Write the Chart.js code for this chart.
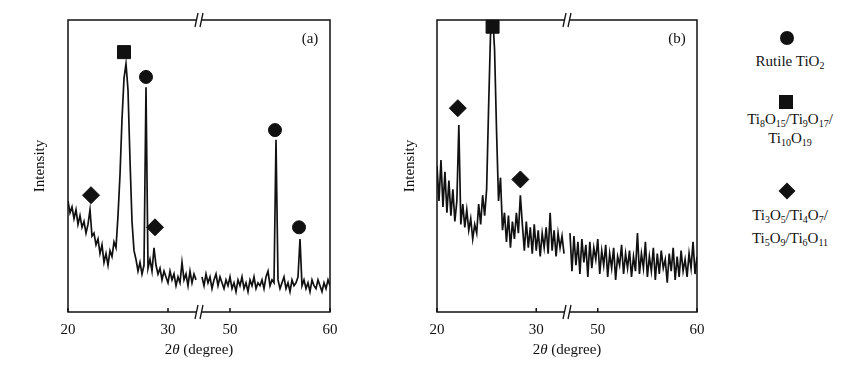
<!DOCTYPE html>
<html lang="en">
<head>
<meta charset="UTF-8">
<title>XRD patterns (a) and (b)</title>
<style>
    body {
        margin: 0;
        background: #fff;
    }

    .page {
        position: relative;
        width: 868px;
        height: 369px;
        overflow: hidden;
        font-family: 'Liberation Serif', 'Times New Roman', serif;
        color: #111;
    }

    canvas {
        position: absolute;
        top: 0;
    }

    #chartA { left: 0; }
    #chartB { left: 370px; }

    .mark {
        position: absolute;
        background: #111;
    }

    .circle { border-radius: 50%; }

    .line {
        position: absolute;
        left: 730px;
        width: 120px;
        text-align: center;
        font-size: 15px;
        line-height: 14px;
        white-space: nowrap;
    }

    sub {
        font-size: 10px;
        vertical-align: -3px;
        line-height: 0;
    }
</style>
</head>
<body>
<div class="page">
    <canvas id="chartA" width="345" height="369"></canvas>
    <canvas id="chartB" width="345" height="369"></canvas>

    <!-- legend -->
    <div class="mark circle" style="left:780px; top:31px; width:14px; height:14px;"></div>
    <div class="line" style="top:54px;">Rutile TiO<sub>2</sub></div>

    <div class="mark" style="left:779px; top:95px; width:14px; height:14px;"></div>
    <div class="line" style="top:112px;">Ti<sub>8</sub>O<sub>15</sub>/Ti<sub>9</sub>O<sub>17</sub>/</div>
    <div class="line" style="top:131px;">Ti<sub>10</sub>O<sub>19</sub></div>

    <div class="mark" style="left:781px; top:185px; width:12px; height:12px; transform:rotate(45deg);"></div>
    <div class="line" style="top:208px;">Ti<sub>3</sub>O<sub>5</sub>/Ti<sub>4</sub>O<sub>7</sub>/</div>
    <div class="line" style="top:231px;">Ti<sub>5</sub>O<sub>9</sub>/Ti<sub>6</sub>O<sub>11</sub></div>
</div>

<script src="https://cdn.jsdelivr.net/npm/chart.js"></script>
<script>
    // scan sampling: low-angle part 20.0..32.8, high-angle part 47.2..60.0, 0.2 deg steps
    const lowStart = 20.0;
    const highStart = 47.2;
    const angleStep = 0.2;

    // broken axis: 33..47 deg is cut out
    const breakShift = 13.8;
    const breakAt = 33.1;

    const tickDegrees = [20, 30, 50, 60];
    const tickLabels = ['20', '30', '50', '60'];

    // intensities (arb. units, 0-100 of the frame height)
    const lowA = [38, 34, 36, 32, 35, 30, 33, 29, 31, 27, 30, 35, 26, 27, 23, 25, 20, 23, 17, 20,
                  16, 21, 19, 24, 22, 33, 47, 66, 80, 85, 76, 52, 31, 21, 18, 14, 17, 13, 16, 77,
                  15, 18, 14, 22, 16, 13, 15, 11, 14, 12, 10, 14, 11, 13, 9, 12, 10, 17, 11, 13,
                  9, 14, 10, 13, 11];
    const highA = [12, 9, 13, 10, 12, 8, 11, 13, 9, 12, 10, 8, 11, 9, 12, 8, 10, 7, 11, 9,
                   12, 8, 10, 7, 11, 9, 12, 8, 10, 9, 11, 8, 12, 14, 9, 11, 10, 59, 11, 8,
                   10, 12, 8, 10, 7, 11, 9, 10, 12, 25, 9, 11, 8, 10, 7, 11, 9, 8, 11, 9,
                   7, 10, 8, 11, 9];

    const lowB = [50, 38, 52, 36, 48, 34, 45, 33, 42, 31, 38, 64, 30, 37, 29, 35, 28, 32, 25, 30,
                  27, 37, 30, 40, 33, 42, 70, 96, 102, 90, 62, 38, 46, 28, 34, 24, 33, 22, 31, 25,
                  34, 27, 40, 30, 21, 31, 22, 29, 20, 30, 21, 28, 19, 27, 22, 29, 20, 34, 21, 28,
                  19, 27, 22, 26, 20];
    const highB = [27, 14, 26, 16, 24, 13, 25, 17, 23, 12, 24, 15, 22, 18, 25, 13, 21, 16, 23, 12,
                   20, 15, 22, 11, 19, 16, 23, 13, 20, 15, 21, 12, 19, 14, 27, 13, 20, 15, 24, 12,
                   19, 14, 22, 11, 20, 13, 21, 15, 18, 10, 20, 14, 22, 11, 19, 12, 21, 14, 18, 12,
                   20, 15, 24, 13, 19];

    // phase markers above the reflections
    const markAngleA = [22.3, 25.6, 27.8, 28.7, 54.5, 56.9];
    const markHeightA = [40, 89, 80.5, 29, 62.3, 29];
    const markKindA = ['diamond', 'square', 'circle', 'diamond', 'circle', 'circle'];

    const markAngleB = [22.1, 25.6, 28.4];
    const markHeightB = [69.8, 97.7, 45.4];
    const markKindB = ['diamond', 'square', 'diamond'];

    const markStyle = { circle: 'circle', square: 'rect', diamond: 'rectRot' };
    const markRadius = { circle: 6.5, square: 9.2, diamond: 8.5 };

    const toAxis = t => (t > 40 ? t - breakShift : t);

    function buildSeries(low, high) {
        const pts = low.map((v, i) => ({ x: lowStart + angleStep * i, y: v }));
        pts.push({ x: breakAt, y: null });
        high.forEach((v, i) => pts.push({ x: toAxis(highStart + angleStep * i), y: v }));
        return pts;
    }

    const framePlugin = {
        id: 'frame',
        afterDraw(chart, args, opts) {
            const { ctx, chartArea: a } = chart;
            const x = chart.scales.x;
            ctx.save();
            ctx.strokeStyle = '#111';
            ctx.lineWidth = 1.5;
            ctx.strokeRect(a.left, a.top, a.right - a.left, a.bottom - a.top);

            // small inward ticks on the bottom edge
            ctx.beginPath();
            tickDegrees.forEach(d => {
                const px = x.getPixelForValue(toAxis(d));
                ctx.moveTo(px, a.bottom);
                ctx.lineTo(px, a.bottom - 4);
            });
            ctx.stroke();

            // // break marks on top and bottom edges
            const bx = x.getPixelForValue(breakAt);
            [a.top, a.bottom].forEach(y => {
                ctx.fillStyle = '#fff';
                ctx.fillRect(bx - 2, y - 2, 4, 4);
                ctx.beginPath();
                ctx.moveTo(bx - 4, y + 7);
                ctx.lineTo(bx - 1, y - 7);
                ctx.moveTo(bx + 1, y + 7);
                ctx.lineTo(bx + 4, y - 7);
                ctx.lineWidth = 1.3;
                ctx.stroke();
            });

            // x title: 2θ (degree), θ in italics
            const parts = [['2', ''], ['θ', 'italic '], [' (degree)', '']];
            let total = 0;
            parts.forEach(p => {
                ctx.font = p[1] + '15px "Liberation Serif"';
                total += ctx.measureText(p[0]).width;
            });
            let tx = (a.left + a.right) / 2 - total / 2;
            ctx.fillStyle = '#111';
            ctx.textBaseline = 'middle';
            ctx.textAlign = 'left';
            parts.forEach(p => {
                ctx.font = p[1] + '15px "Liberation Serif"';
                ctx.fillText(p[0], tx, 350);
                tx += ctx.measureText(p[0]).width;
            });

            // panel letter
            ctx.font = '15px "Liberation Serif"';
            ctx.textAlign = 'center';
            ctx.fillText(opts.letter, a.right - 20, a.top + 19);
            ctx.restore();
        }
    };

    function makeChart(id, series, angles, heights, kinds, letter, yWidth, padRight) {
        const marks = angles.map((t, i) => ({ x: toAxis(t), y: heights[i] }));
        return new Chart(document.getElementById(id), {
            type: 'line',
            data: {
                datasets: [{
                    data: series,
                    borderColor: '#111',
                    borderWidth: 1.7,
                    pointRadius: 0,
                    tension: 0,
                    spanGaps: false
                }, {
                    type: 'scatter',
                    data: marks,
                    pointStyle: kinds.map(k => markStyle[k]),
                    pointRadius: kinds.map(k => markRadius[k]),
                    backgroundColor: '#111',
                    borderColor: '#111',
                    borderWidth: 1,
                    clip: false
                }]
            },
            options: {
                responsive: false,
                animation: false,
                layout: { padding: { top: 20, right: padRight, left: 0, bottom: 0 } },
                plugins: {
                    legend: { display: false },
                    tooltip: { enabled: false },
                    frame: { letter: letter }
                },
                scales: {
                    x: {
                        type: 'linear',
                        min: 20,
                        max: 60 - breakShift,
                        grid: { display: false },
                        border: { display: false },
                        afterBuildTicks: s => { s.ticks = tickDegrees.map(d => ({ value: toAxis(d) })); },
                        afterFit: s => { s.height = 57; },
                        ticks: {
                            autoSkip: false,
                            maxRotation: 0,
                            padding: 1,
                            color: '#111',
                            font: { family: 'Liberation Serif', size: 15 },
                            callback: (v, i) => tickLabels[i]
                        }
                    },
                    y: {
                        min: 0,
                        max: 100,
                        grid: { display: false },
                        border: { display: false },
                        ticks: { display: false },
                        afterFit: s => { s.width = yWidth; },
                        title: {
                            display: true,
                            text: 'Intensity',
                            color: '#111',
                            font: { family: 'Liberation Serif', size: 15 },
                            padding: { top: 31, bottom: 0 }
                        }
                    }
                }
            },
            plugins: [framePlugin]
        });
    }

    makeChart('chartA', buildSeries(lowA, highA), markAngleA, markHeightA, markKindA, '(a)', 68, 15);
    makeChart('chartB', buildSeries(lowB, highB), markAngleB, markHeightB, markKindB, '(b)', 67, 18);
</script>
</body>
</html>
